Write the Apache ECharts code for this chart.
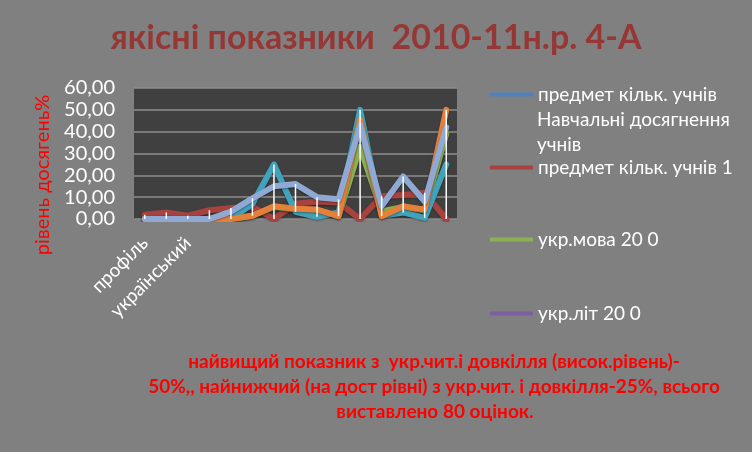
<!DOCTYPE html>
<html><head><meta charset="utf-8">
<script src="https://cdn.jsdelivr.net/npm/echarts@6/dist/echarts.min.js"></script>
<style>html,body{margin:0;padding:0;background:#808080}#c{width:752px;height:452px}</style>
</head><body><div id="c"></div>
<script>
var categories = ['профіль','','український','','','','','','','','','','','',''];
var seriesNames = ['предмет кільк. учнів Навчальні досягнення учнів','предмет кільк. учнів 1','укр.мова 20 0','укр.літ 20 0','ряд 5','ряд 6','ряд 7'];
var sBlue   = [null,null,null,null,null,null,null,null,null,null,null,null,null,null,null];
var sRed    = [2,3,1.5,4,5,5.5,0,7,8,7.5,0,10.4,11,12,0];
var sGreen  = [0,0,0,0,0,1.5,5.5,4.5,4,1.3,33,3.5,5.5,4,39];
var sPurple = [null,null,null,null,null,null,null,null,null,null,null,null,null,null,null];
var sTeal   = [0,0,0,0,0,7,25,3.3,1,3,50,1.5,3,0.5,25];
var sOrange = [0,0,0,0,0,1.5,5.8,4.7,4.3,1.3,45.5,1.3,5.8,4.3,50];
var sLav    = [0,0,0,0,3.4,9.5,15,16,10,9,43,6,19.5,8,42];
var yTicks = [0,10,20,30,40,50,60];

var colors = ['#4F81BD','#A8423F','#8EB054','#7B5FA0','#40A2BB','#E5803A','#8FA9D4'];
var allData = [sBlue,sRed,sGreen,sPurple,sTeal,sOrange,sLav];
var F = 'Lato, "Open Sans", sans-serif';

var series = allData.map(function(d,i){
  return {name: seriesNames[i], type:'line', data:d, symbol:'none', z: 2+i,
    lineStyle:{color:colors[i], width:6, cap:'round', join:'round', shadowColor:'rgba(0,0,0,0.35)', shadowBlur:2, shadowOffsetY:1},
    itemStyle:{color:colors[i]}};
});
var hl = categories.map(function(c,k){
  var vals = allData.map(function(d){return d[k];}).filter(function(v){return v!=null;});
  return [k, Math.min.apply(null,vals), Math.max.apply(null,vals)];
});
series.push({type:'custom', z:20, data:hl, silent:true,
  renderItem:function(params, api){
    var p1 = api.coord([api.value(0), api.value(1)]);
    var p2 = api.coord([api.value(0), api.value(2)]);
    return {type:'line', shape:{x1:p1[0],y1:p1[1],x2:p2[0],y2:p2[1]}, style:{stroke:'#ffffff', lineWidth:1.5}};
  }});

function leg(i, top){
  return {data:[seriesNames[i]], left:490, top:top, icon:'rect', itemWidth:43, itemHeight:4, padding:0,
    formatter: i===0 ? function(){return 'предмет кільк. учнів';} : undefined,
    selectedMode:false,
    textStyle:{color:'#ffffff', fontFamily:F, fontSize:19}};
}

var chart = echarts.init(document.getElementById('c'), null, {renderer:'canvas'});
chart.setOption({
  backgroundColor:'#808080',
  animation:false,
  title:{text:'якісні показники  2010-11н.р. 4-А', left:'center', top:21, padding:0,
    textStyle:{color:'#953735', fontFamily:F, fontWeight:'bold', fontSize:34}},
  legend:[leg(0,85), leg(1,158), leg(2,230), leg(3,304)],
  grid:{left:134, right:295, top:88, bottom:233, show:true, backgroundColor:'#404040', borderWidth:0},
  xAxis:{type:'category', data:categories, boundaryGap:true,
    axisLine:{show:false}, axisTick:{show:false},
    axisLabel:{interval:0, rotate:45, color:'#ffffff', fontFamily:F, fontSize:19, margin:21}},
  yAxis:{type:'value', min:yTicks[0], max:yTicks[yTicks.length-1], interval:10,
    axisLine:{show:false}, axisTick:{show:false},
    axisLabel:{color:'#ffffff', fontFamily:F, fontSize:20, margin:19,
      formatter:function(v){return v.toFixed(2).replace('.',',');}},
    splitLine:{lineStyle:{color:'#8C8C8C', width:1.5}}},
  graphic:[
    {type:'text', x:43, y:175, rotation:Math.PI/2, style:{text:'рівень досягень%', fill:'#ff0000', font:'20px '+F, textAlign:'center', textVerticalAlign:'middle'}},
    {type:'text', left:537, top:107, style:{text:'Навчальні досягнення\nучнів', fill:'#ffffff', font:'19px '+F, lineHeight:25}},
    {type:'text', x:434, y:362, style:{text:'найвищий показник з  укр.чит.і довкілля (висок.рівень)-', fill:'#ff0000', font:'bold 19px '+F, textAlign:'center', textVerticalAlign:'middle'}},
    {type:'text', x:434, y:387, style:{text:'50%,, найнижчий (на дост рівні) з укр.чит. і довкілля-25%, всього', fill:'#ff0000', font:'bold 19px '+F, textAlign:'center', textVerticalAlign:'middle'}},
    {type:'text', x:435, y:412, style:{text:'виставлено 80 оцінок.', fill:'#ff0000', font:'bold 19px '+F, textAlign:'center', textVerticalAlign:'middle'}}
  ],
  series:series
});
</script></body></html>
